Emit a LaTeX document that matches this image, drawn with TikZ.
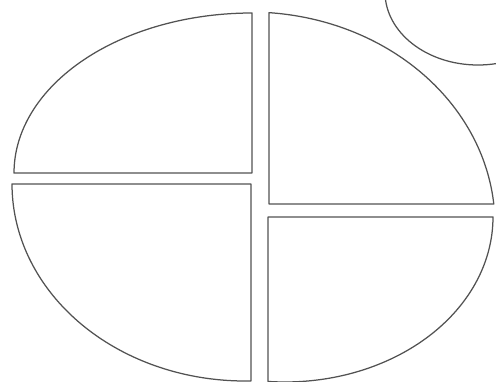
\documentclass[tikz,border=0pt]{standalone}
\begin{document}
\begin{tikzpicture}[x=1pt,y=-1pt,
  piece/.style={draw=black!68, line width=1.25pt, line join=round}]
\useasboundingbox (0,0) rectangle (496,382);
\clip (0,0) rectangle (496,382);
% top-left piece
\draw[piece] (252,173) -- (14,173)
  -- plot[domain=180:270, samples=80] ({252+238*cos(\x)},{173+160*sin(\x)}) -- cycle;
% top-right piece
\draw[piece] (269,204) -- (493.8,204)
  -- plot[domain=-5.66:-85.55, samples=80] ({250+245*cos(\x)},{225+213*sin(\x)}) -- cycle;
% bottom-left piece
\draw[piece] (251,184) -- (12,184)
  -- plot[domain=180:88.52, samples=80] ({245+233*cos(\x)},{184+197*sin(\x)}) -- cycle;
% bottom-right piece
\draw[piece] (268,217) -- (493,217)
  -- plot[domain=0:94.69, samples=80] ({285+208*cos(\x)},{217+165*sin(\x)}) -- cycle;
% circle at the top right corner
\draw[piece] (478,-8) ellipse [x radius=93, y radius=73];
\end{tikzpicture}
\end{document}
